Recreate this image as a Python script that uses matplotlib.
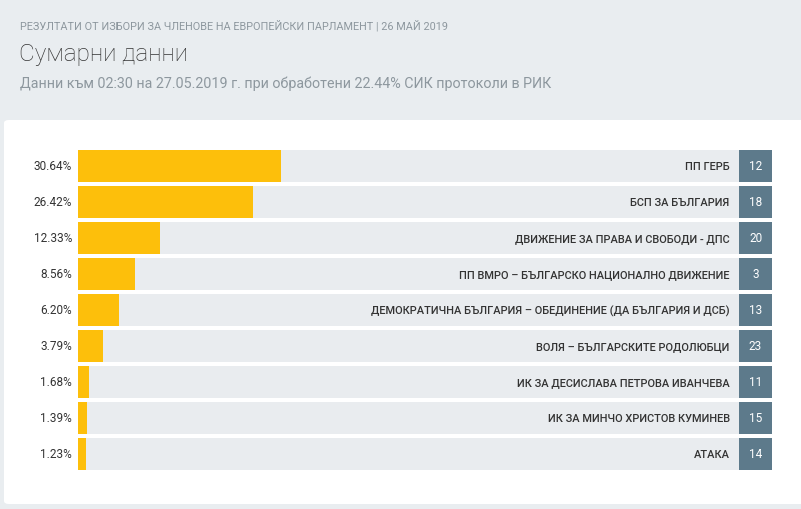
import matplotlib
matplotlib.use('Agg')
import matplotlib.pyplot as plt
from matplotlib.patches import FancyBboxPatch

# data
parties = ['ПП ГЕРБ', 'БСП ЗА БЪЛГАРИЯ', 'ДВИЖЕНИЕ ЗА ПРАВА И СВОБОДИ - ДПС',
           'ПП ВМРО – БЪЛГАРСКО НАЦИОНАЛНО ДВИЖЕНИЕ',
           'ДЕМОКРАТИЧНА БЪЛГАРИЯ – ОБЕДИНЕНИЕ (ДА БЪЛГАРИЯ И ДСБ)',
           'ВОЛЯ – БЪЛГАРСКИТЕ РОДОЛЮБЦИ', 'ИК ЗА ДЕСИСЛАВА ПЕТРОВА ИВАНЧЕВА',
           'ИК ЗА МИНЧО ХРИСТОВ КУМИНЕВ', 'АТАКА']
percents = [30.64, 26.42, 12.33, 8.56, 6.20, 3.79, 1.68, 1.39, 1.23]
numbers = [12, 18, 20, 3, 13, 23, 11, 15, 14]

BG = '#e9edf0'
TRACK = '#e9ecef'
YELLOW = '#fdbf0b'
BOX = '#5d7a8b'
DARK = '#333333'
GREY = '#8d979e'

plt.rcParams['font.family'] = ['Roboto', 'DejaVu Sans']

W, H = 801, 510
fig = plt.figure(figsize=(W / 100, H / 100), dpi=100, facecolor=BG)

# white panel
panel = FancyBboxPatch((4 / W, 1 - 505 / H), 820 / W, 384 / H,
                       boxstyle='round,pad=0,rounding_size=0.006',
                       transform=fig.transFigure, facecolor='white',
                       edgecolor='none', zorder=-5)
fig.patches.append(panel)

fig.text(20 / W, 1 - 26 / H, 'РЕЗУЛТАТИ ОТ ИЗБОРИ ЗА ЧЛЕНОВЕ НА ЕВРОПЕЙСКИ ПАРЛАМЕНТ | 26 МАЙ 2019',
         fontsize=7.8, color=GREY, va='center', ha='left')
fig.text(19 / W, 1 - 55 / H, 'Сумарни данни', fontsize=17.5, color=DARK,
         va='center', ha='left', fontweight='light')
fig.text(20 / W, 1 - 84 / H, 'Данни към 02:30 на 27.05.2019 г. при обработени 22.44% СИК протоколи в РИК',
         fontsize=10.3, color=GREY, va='center', ha='left')

# bar area: 0..100 maps to px 78..739, number boxes after that
px_per_unit = 661 / 100
left_px, right_px = 78, 773
top_px, bottom_px = 149, 473
ax = fig.add_axes([left_px / W, 1 - bottom_px / H,
                   (right_px - left_px) / W, (bottom_px - top_px) / H])
ax.set_xlim(0, (right_px - left_px) / px_per_unit)
ax.set_ylim(len(parties) - 0.5, -0.5)
ax.axis('off')

ys = list(range(len(parties)))
h = 32 / 36
ax.barh(ys, [100] * len(ys), height=h, color=TRACK, zorder=1)
ax.barh(ys, percents, height=h, color=YELLOW, zorder=2)
ax.barh(ys, [5] * len(ys), left=100, height=h, color=BOX, zorder=2)

for y, p, name, n in zip(ys, percents, parties, numbers):
    ax.text(-0.9, y, f'{p:.2f}%', ha='right', va='center', fontsize=8.5, color=DARK)
    ax.text(98.6, y, name, ha='right', va='center', fontsize=7.9, color=DARK,
            fontweight='medium')
    ax.text(102.5, y, str(n), ha='center', va='center', fontsize=8.5, color='white')

fig.savefig('out.png', dpi=100, facecolor=BG)
